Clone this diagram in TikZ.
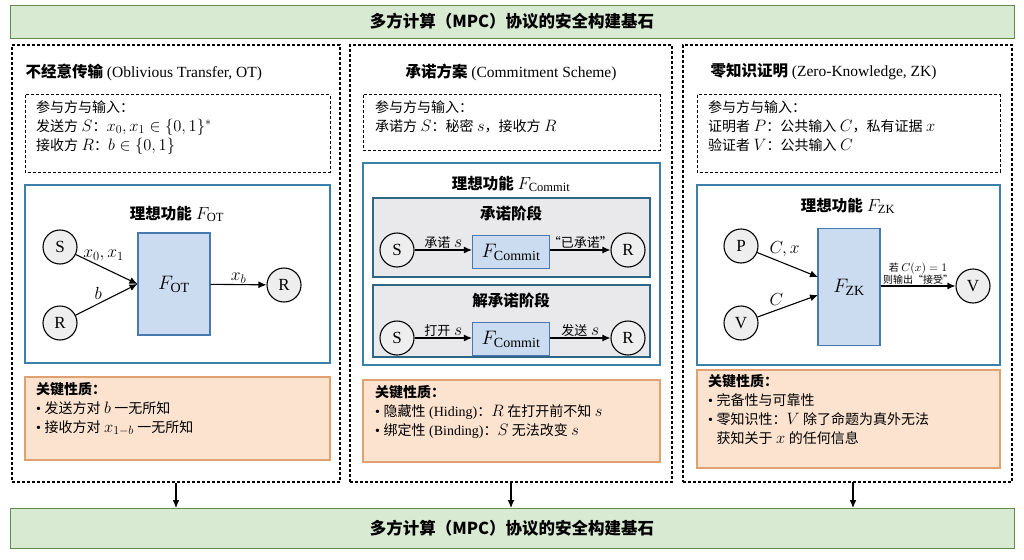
\documentclass[tikz,border=0pt]{standalone}
\usepackage{fix-cm}
\usepackage{fontspec}
\setmainfont{Liberation Serif}
\newfontfamily\cjk{Noto Sans CJK SC}
\DeclareMathSizes{14}{16.5}{12}{9}
\DeclareMathSizes{15}{17.5}{12.5}{9}
\DeclareMathSizes{15.5}{17.5}{12.5}{9}
\DeclareMathSizes{17}{19.5}{14}{10}
\DeclareMathSizes{10}{11.5}{8.5}{6}
\usetikzlibrary{arrows.meta}
\definecolor{gfill}{HTML}{D9EAD3}\definecolor{gline}{HTML}{5E8C4E}
\definecolor{ofill}{HTML}{FBE3D0}\definecolor{oline}{HTML}{E0A070}
\definecolor{bline}{HTML}{3A80AA}\definecolor{ffill}{HTML}{CCDCF0}\definecolor{fline}{HTML}{4A78B0}
\definecolor{sfill}{HTML}{E9E9EB}\definecolor{cfill}{HTML}{EEEEEE}
\newcommand{\zh}[1]{{\cjk #1}}
\begin{document}
\begin{tikzpicture}[x=1pt,y=-1pt,font=\fontsize{14}{16}\selectfont,
 banner/.style={draw=gline,fill=gfill,line width=0.8pt},
 panel/.style={draw,dashed,line width=1.1pt,dash pattern=on 3pt off 2pt},
 inbox/.style={draw,line width=1pt,dash pattern=on 3pt off 2pt},
 ideal/.style={draw=bline,line width=1.3pt,fill=white},
 sub/.style={draw=bline!80!black,line width=1.1pt,fill=sfill},
 key/.style={draw=oline,fill=ofill,line width=1.1pt},
 party/.style={circle,draw,line width=1.1pt,fill=cfill,minimum size=34pt,inner sep=0pt,font=\fontsize{17}{19}\selectfont},
 fbox/.style={draw=fline,fill=ffill,line width=1.1pt,inner sep=0pt,font=\fontsize{17}{19}\selectfont},
 arr/.style={-{Latex[length=8pt,width=7pt]},line width=1.1pt},
 ttl/.style={font=\fontsize{15.5}{18}\selectfont\bfseries},
 lbl/.style={font=\fontsize{15}{17}\selectfont,inner sep=1pt},
 txt/.style={anchor=north west,align=left,inner sep=0pt,font=\fontsize{14}{19}\selectfont}]
\useasboundingbox (0,0) rectangle (1024,559);
% banners
\draw[banner] (10,5) rectangle (1014,38);
\node[ttl,font=\fontsize{16.5}{19}\selectfont] (top) at (512,21.5) {\zh{\bfseries 多方计算（MPC）协议的安全构建基石}};
\draw[banner] (10,508) rectangle (1014,548);
\node[ttl,font=\fontsize{16.5}{19}\selectfont] (bot) at (512,528) {\zh{\bfseries 多方计算（MPC）协议的安全构建基石}};
% panels
\node[panel,minimum width=328pt,minimum height=437pt,inner sep=0pt] (p1) at (176,263.5) {};
\node[panel,minimum width=322pt,minimum height=437pt,inner sep=0pt] (p2) at (511,263.5) {};
\node[panel,minimum width=329pt,minimum height=437pt,inner sep=0pt] (p3) at (847.5,263.5) {};
\coordinate (b1) at (176,508);\coordinate (b2) at (511,508);\coordinate (b3) at (853,508);
\draw[arr] (p1.south) -- (b1);
\draw[arr] (p2.south) -- (b2);
\draw[arr] (853,482) -- (b3);
% titles
\node[ttl,anchor=west] (t1) at (22,72) {\zh{\bfseries 不经意传输} \mdseries(Oblivious Transfer, OT)};
\node[ttl] (t2) at (511,72) {\zh{\bfseries 承诺方案} \mdseries(Commitment Scheme)};
\node[ttl,anchor=west] (t3) at (707,72) {\zh{\bfseries 零知识证明} \mdseries(Zero-Knowledge, ZK)};
% input boxes
\draw[inbox] (25,95) rectangle (330,172);
\node[txt] (i1) at (36,100) {\zh{参与方与输入：}\\ \zh{发送方} $S$\zh{：}$x_0,x_1\in\{0,1\}^*$\\ \zh{接收方} $R$\zh{：}$b\in\{0,1\}$};
\draw[inbox] (363,95) rectangle (660,150);
\node[txt] (i2) at (375,100) {\zh{参与方与输入：}\\ \zh{承诺方} $S$\zh{：秘密} $s$\zh{，接收方} $R$};
\draw[inbox] (697,95) rectangle (1000,172);
\node[txt] (i3) at (708,100) {\zh{参与方与输入：}\\ \zh{证明者} $P$\zh{：公共输入} $C$\zh{，私有证据} $x$\\ \zh{验证者} $V$\zh{：公共输入} $C$};
% ideal OT
\draw[ideal] (25,185) rectangle (330,363);
\node[ttl] (it1) at (177,214) {\zh{\bfseries 理想功能} $F_{\mathrm{OT}}$};
\node[party] (s1) at (60,247) {S};
\node[party] (r1) at (60,323) {R};
\node[fbox,minimum width=72pt,minimum height=102pt] (f1) at (174,284) {$F_{\mathrm{OT}}$};
\node[party] (ro1) at (284,285) {R};
\draw[arr] (s1) -- (f1.west) node[lbl,pos=0.45,above=5pt] {$x_0,x_1$};
\draw[arr] (r1) -- (f1.west) node[lbl,pos=0.45,above left=0pt] {$b$};
\draw[arr] (f1) -- (ro1) node[lbl,midway,above] {$x_b$};
% ideal Commit
\draw[ideal] (363,163) rectangle (660,365);
\node[ttl] (it2) at (511,184) {\zh{\bfseries 理想功能} $F_{\mathrm{Commit}}$};
\draw[sub] (373,198) rectangle (650,277);
\node[ttl] (st1) at (511,214) {\zh{\bfseries 承诺阶段}};
\node[party] (s2) at (397,250) {S};
\node[fbox,minimum width=77pt,minimum height=33pt] (f2) at (511,252) {$F_{\mathrm{Commit}}$};
\node[party] (r2) at (628,250) {R};
\draw[arr] (s2) -- (s2-|f2.west) node[lbl,midway,above] {\zh{\fontsize{13}{15}\selectfont 承诺} $s$};
\draw[arr] (r2-|f2.east) -- (r2) node[lbl,midway,above] {\zh{\fontsize{13}{15}\selectfont “已承诺”}};
\draw[sub] (373,285) rectangle (650,357);
\node[ttl] (st2) at (511,301) {\zh{\bfseries 解承诺阶段}};
\node[party] (s3) at (397,338) {S};
\node[fbox,minimum width=77pt,minimum height=33pt] (f3) at (511,339) {$F_{\mathrm{Commit}}$};
\node[party] (r3) at (628,338) {R};
\draw[arr] (s3) -- (s3-|f3.west) node[lbl,midway,above] {\zh{\fontsize{13}{15}\selectfont 打开} $s$};
\draw[arr] (r3-|f3.east) -- (r3) node[lbl,midway,above] {\zh{\fontsize{13}{15}\selectfont 发送} $s$};
% ideal ZK
\draw[ideal] (697,185) rectangle (1000,365);
\node[ttl] (it3) at (848,206) {\zh{\bfseries 理想功能} $F_{\mathrm{ZK}}$};
\node[party] (p) at (741,246) {P};
\node[party] (v) at (741,323) {V};
\node[fbox,minimum width=62pt,minimum height=117pt] (f4) at (849,287) {$F_{\mathrm{ZK}}$};
\node[party] (vo) at (973,286) {V};
\draw[arr] (p) -- (818,277) node[lbl,pos=0.45,above=5pt] {$C,x$};
\draw[arr] (v) -- (818,295) node[lbl,pos=0.45,above left=0pt] {$C$};
\draw[arr] (vo-|f4.east) -- (vo) node[lbl,midway,above,align=center,font=\fontsize{10}{12.5}\selectfont] {\zh{若} $C(x)=1$\\ \zh{则输出“接受”}};
% key boxes
\draw[key] (25,377) rectangle (330,460);
\node[txt] (k1) at (36,382) {\zh{\bfseries 关键性质：}\\ \textbullet\ \zh{发送方对} $b$ \zh{一无所知}\\ \textbullet\ \zh{接收方对} $x_{1-b}$ \zh{一无所知}};
\draw[key] (363,380) rectangle (660,462);
\node[txt] (k2) at (375,385) {\zh{\bfseries 关键性质：}\\ \textbullet\ \zh{隐藏性} (Hiding)\zh{：}$R$ \zh{在打开前不知} $s$\\ \textbullet\ \zh{绑定性} (Binding)\zh{：}$S$ \zh{无法改变} $s$};
\draw[key] (697,370) rectangle (1000,468);
\node[txt] (k3) at (708,374) {\zh{\bfseries 关键性质：}\\ \textbullet\ \zh{完备性与可靠性}\\ \textbullet\ \zh{零知识性：}$V$ \zh{除了命题为真外无法}\\ \hphantom{\textbullet\ }\zh{获知关于} $x$ \zh{的任何信息}};
\end{tikzpicture}
\end{document}
